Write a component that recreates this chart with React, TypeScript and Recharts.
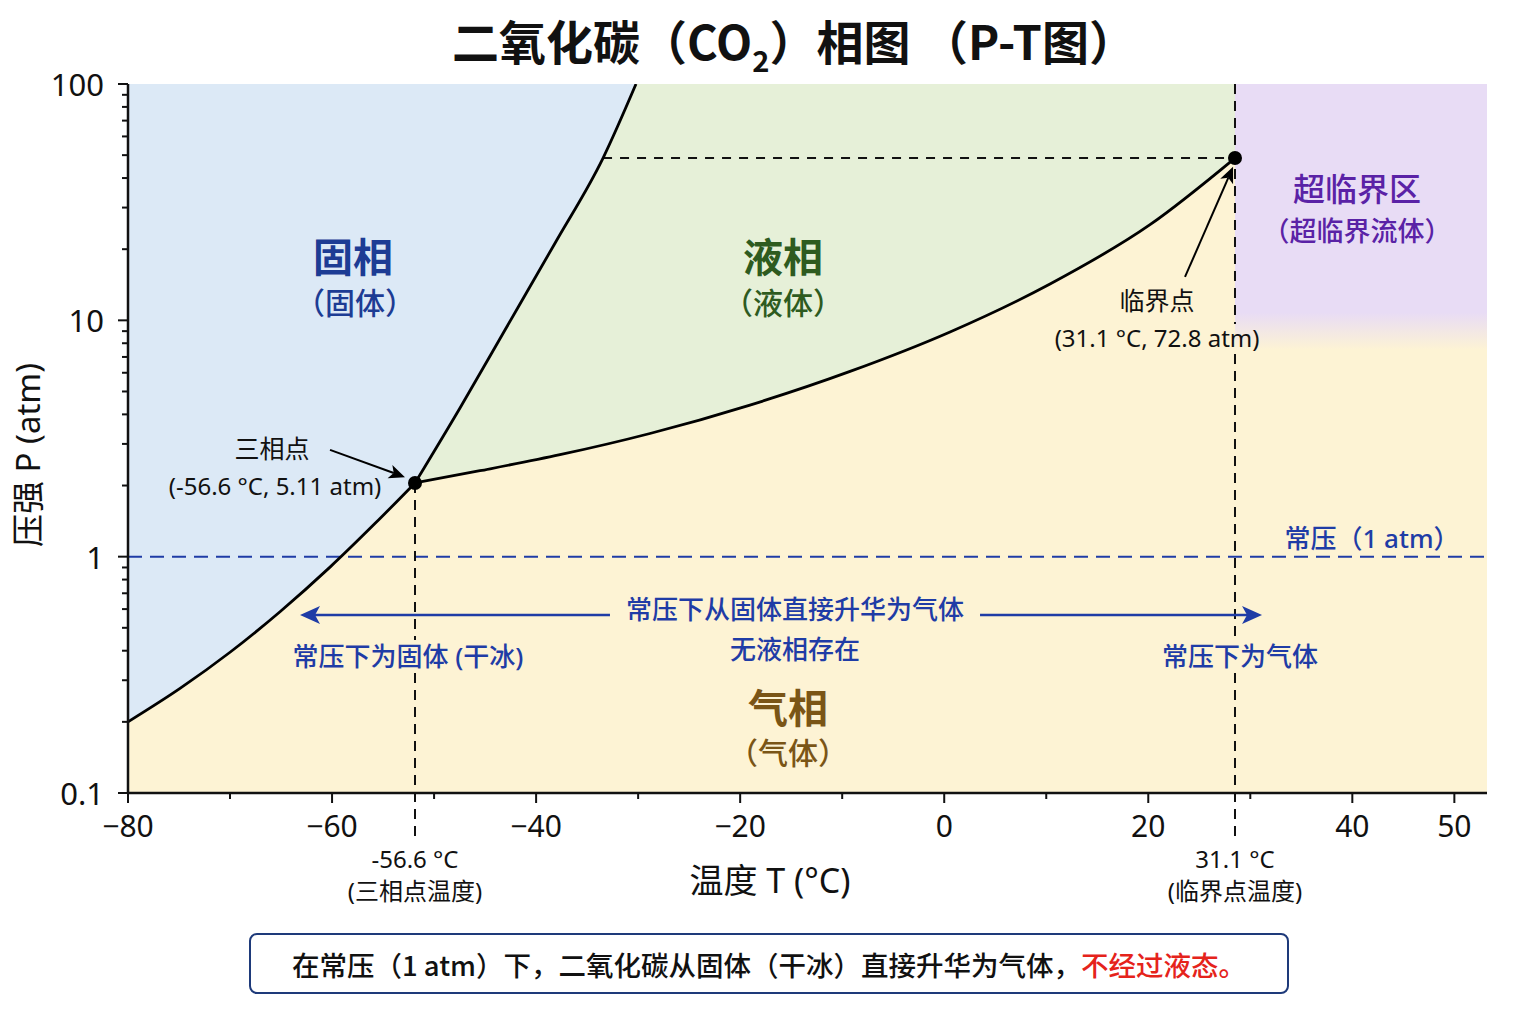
import React from 'react';
import {
  ComposedChart,
  Line,
  Area,
  Scatter,
  XAxis,
  YAxis,
  CartesianGrid,
  ReferenceLine,
  ReferenceArea,
  ReferenceDot,
} from 'recharts';

const FONT = '"Noto Sans", "Noto Sans CJK SC", sans-serif';
const CJK = '"Noto Sans CJK SC", "Noto Sans", sans-serif';

// t = 温度 (°C), p = 压强 (atm)
const sublimationCurve = [
  { t: -80, p: 0.2 },
  { t: -74.9, p: 0.277 },
  { t: -70.0, p: 0.394 },
  { t: -65.1, p: 0.585 },
  { t: -60.2, p: 0.903 },
  { t: -55.8, p: 1.38 },
  { t: -51.87, p: 2.05 },
];

const meltingCurve = [
  { t: -51.87, p: 2.05 },
  { t: -47.46, p: 4.26 },
  { t: -43.05, p: 9.1 },
  { t: -38.15, p: 21.2 },
  { t: -33.44, p: 48.6 },
  { t: -30.21, p: 100 },
];

const vaporizationCurve = [
  { t: -51.87, p: 2.05 },
  { t: -45.5, p: 2.31 },
  { t: -37.66, p: 2.7 },
  { t: -28.84, p: 3.32 },
  { t: -19.04, p: 4.38 },
  { t: -9.23, p: 6.08 },
  { t: 0.57, p: 8.93 },
  { t: 10.37, p: 14.25 },
  { t: 20.17, p: 25.4 },
  { t: 28.5, p: 48.6 },
];

const triplePoint = [{ t: -51.87, p: 2.05 }];
const criticalPoint = [{ t: 28.5, p: 48.6 }];

const xDomain = [-80, 53.2];
const xTicks = [-80, -70, -60, -50, -40, -30, -20, -10, 0, 10, 20, 30, 40, 50];
const xLabeled = [-80, -60, -40, -20, 0, 20, 40, 50];
const yTicks = [
  0.1, 0.2, 0.3, 0.4, 0.5, 0.6, 0.7, 0.8, 0.9,
  1, 2, 3, 4, 5, 6, 7, 8, 9,
  10, 20, 30, 40, 50, 60, 70, 80, 90, 100,
];
const yLabeled = [0.1, 1, 10, 100];

const INK = '#111';
const BLUE = '#1f3ca6';
const GAS = '#fdf3d4';

const XTick = ({ x, y, payload }: any) => {
  const v = payload.value;
  const major = xLabeled.includes(v);
  return (
    <g>
      <line x1={x} y1={y} x2={x} y2={y + (major ? 10 : 6)} stroke={INK} strokeWidth={2} />
      {major && (
        <text x={x} y={y + 32} textAnchor="middle" dominantBaseline="central" fontSize={30} fontFamily={FONT} fill={INK}>
          {v < 0 ? '−' + Math.abs(v) : String(v)}
        </text>
      )}
    </g>
  );
};

const YTick = ({ x, y, payload }: any) => {
  const v = payload.value;
  const major = yLabeled.includes(v);
  return (
    <g>
      <line x1={x - (major ? 10 : 6)} y1={y} x2={x} y2={y} stroke={INK} strokeWidth={2} />
      {major && (
        <text x={x - 24} y={y} textAnchor="end" dominantBaseline="central" fontSize={31} fontFamily={FONT} fill={INK}>
          {String(v)}
        </text>
      )}
    </g>
  );
};

// line with a filled head at the second end
const arrowShape = (color: string, width: number, len: number, half: number) => (props: any) => {
  const { x1, y1, x2, y2 } = props;
  const a = Math.atan2(y2 - y1, x2 - x1);
  const bx = x2 - len * Math.cos(a);
  const by = y2 - len * Math.sin(a);
  const nx = bx + len * 0.25 * Math.cos(a);
  const ny = by + len * 0.25 * Math.sin(a);
  const pts = [
    `${x2},${y2}`,
    `${bx + half * Math.sin(a)},${by - half * Math.cos(a)}`,
    `${nx},${ny}`,
    `${bx - half * Math.sin(a)},${by + half * Math.cos(a)}`,
  ].join(' ');
  return (
    <g>
      <line x1={x1} y1={y1} x2={nx} y2={ny} stroke={color} strokeWidth={width} />
      <polygon points={pts} fill={color} />
    </g>
  );
};

const note = (
  key: string, t: number, p: number, text: string, size: number, color: string, weight = 400,
) => (
  <ReferenceDot
    key={key}
    x={t}
    y={p}
    r={0}
    ifOverflow="visible"
    shape={(s: any) => (
      <text
        x={s.cx}
        y={s.cy}
        textAnchor="middle"
        dominantBaseline="central"
        fontSize={size}
        fontWeight={weight}
        fontFamily={FONT}
        fill={color}
      >
        {text}
      </text>
    )}
  />
);

// dashed guide broken where a label sits on it
const guide = (key: string, t: number, p1: number, p2: number) => (
  <ReferenceLine
    key={key}
    segment={[{ x: t, y: p1 }, { x: t, y: p2 }]}
    ifOverflow="visible"
    stroke={INK}
    strokeWidth={2}
    strokeDasharray="10 7"
  />
);

const dot = (s: any) => <circle cx={s.cx} cy={s.cy} r={7} fill="#000" />;

export default function App() {
  return (
    <div style={{ position: 'absolute', left: 0, top: 0, width: 1536, height: 1024, background: '#fff', fontFamily: CJK }}>
      <div
        style={{
          position: 'absolute', left: 294, top: 13, width: 1000, textAlign: 'center',
          fontSize: 47, fontWeight: 700, lineHeight: '54px', color: INK,
        }}
      >
        二氧化碳（CO<span style={{ fontSize: '0.62em', position: 'relative', top: '0.4em' }}>2</span>）相图 （P-T图）
      </div>

      <ComposedChart width={1536} height={1024} margin={{ top: 84, right: 49, bottom: 0, left: 0 }}>
        <defs>
          <linearGradient id="scGrad" x1="0" y1="0" x2="0" y2="1">
            <stop offset="0" stopColor="#e8dcf5" />
            <stop offset="0.86" stopColor="#e8dcf5" />
            <stop offset="1" stopColor={GAS} />
          </linearGradient>
        </defs>
        <CartesianGrid fill={GAS} stroke="none" />
        <XAxis
          dataKey="t"
          type="number"
          domain={xDomain}
          ticks={xTicks}
          interval={0}
          height={231}
          tickSize={0}
          tickMargin={0}
          tickLine={false}
          tick={(props: any) => <XTick {...props} />}
          axisLine={{ stroke: INK, strokeWidth: 2.5 }}
          allowDataOverflow
        />
        <XAxis xAxisId="top" orientation="top" type="number" domain={xDomain} height={0} tick={false} tickLine={false} axisLine={{ stroke: INK, strokeWidth: 2.5 }} />
        <YAxis
          dataKey="p"
          type="number"
          scale="log"
          domain={[0.1, 100]}
          ticks={yTicks}
          interval={0}
          width={128}
          tickSize={0}
          tickMargin={0}
          tickLine={false}
          tick={(props: any) => <YTick {...props} />}
          axisLine={{ stroke: INK, strokeWidth: 2.5 }}
          allowDataOverflow
        />
        <YAxis yAxisId="right" orientation="right" type="number" domain={[0, 1]} width={0} tick={false} tickLine={false} axisLine={{ stroke: INK, strokeWidth: 2.5 }} />

        <ReferenceArea x1={28.5} x2={53.2} y1={7.5} y2={100} fill="url(#scGrad)" fillOpacity={1} stroke="none" />

        <Area data={vaporizationCurve} dataKey="p" type="monotone" baseValue={100} fill="#e6f0d8" fillOpacity={1} stroke="none" isAnimationActive={false} />
        <Area data={sublimationCurve} dataKey="p" type="monotone" baseValue={100} fill="#dce9f6" fillOpacity={1} stroke="none" isAnimationActive={false} />
        <Area data={meltingCurve} dataKey="p" type="monotone" baseValue={100} fill="#dce9f6" fillOpacity={1} stroke="none" isAnimationActive={false} />

        <ReferenceLine y={1} stroke={BLUE} strokeWidth={2} strokeDasharray="14 8" />
        <ReferenceLine segment={[{ x: -33.44, y: 48.6 }, { x: 28.5, y: 48.6 }]} stroke={INK} strokeWidth={2} strokeDasharray="9 8" />
        {guide('v1', -51.87, 2.05, 0.444)}
        {guide('v2', -51.87, 0.322, 0.063)}
        {guide('v3', 28.5, 100, 9.65)}
        {guide('v4', 28.5, 7.2, 0.444)}
        {guide('v5', 28.5, 0.322, 0.063)}

        <Line data={sublimationCurve} dataKey="p" type="monotone" stroke="#000" strokeWidth={2.8} dot={false} isAnimationActive={false} />
        <Line data={meltingCurve} dataKey="p" type="monotone" stroke="#000" strokeWidth={2.8} dot={false} isAnimationActive={false} />
        <Line data={vaporizationCurve} dataKey="p" type="monotone" stroke="#000" strokeWidth={2.8} dot={false} isAnimationActive={false} />

        <ReferenceLine segment={[{ x: -32.76, y: 0.567 }, { x: -63.14, y: 0.567 }]} shape={arrowShape(BLUE, 2.5, 20, 9)} />
        <ReferenceLine segment={[{ x: 3.51, y: 0.567 }, { x: 31.15, y: 0.567 }]} shape={arrowShape(BLUE, 2.5, 20, 9)} />
        <ReferenceLine segment={[{ x: -60.2, y: 2.83 }, { x: -52.85, y: 2.17 }]} shape={arrowShape('#000', 2, 16, 7)} />
        <ReferenceLine segment={[{ x: 23.6, y: 15.26 }, { x: 28.31, y: 44.6 }]} shape={arrowShape('#000', 2, 16, 7)} />

        <Scatter data={triplePoint} shape={dot} isAnimationActive={false} />
        <Scatter data={criticalPoint} shape={dot} isAnimationActive={false} />

        {note('s1', -57.95, 18.7, '固相', 40, '#1d3c94', 700)}
        {note('s2', -57.75, 11.84, '（固体）', 30, '#1d3c94', 500)}
        {note('l1', -15.8, 18.7, '液相', 40, '#2e5b1f', 700)}
        {note('l2', -15.8, 11.84, '（液体）', 30, '#2e5b1f', 500)}
        {note('g1', -15.31, 0.231, '气相', 40, '#7a5516', 700)}
        {note('g2', -15.31, 0.149, '（气体）', 30, '#7a5516', 500)}
        {note('c1', 40.46, 36.3, '超临界区', 32, '#5a22a6', 500)}
        {note('c2', 40.46, 24.1, '（超临界流体）', 27, '#5a22a6', 500)}
        {note('t1', -65.89, 2.88, '三相点', 25, INK)}
        {note('t2', -65.59, 2.01, '(-56.6 °C, 5.11 atm)', 24, INK)}
        {note('k1', 20.86, 12.19, '临界点', 25, INK)}
        {note('k2', 20.86, 8.42, '(31.1 °C, 72.8 atm)', 24, INK)}
        {note('a1', 41.93, 1.2, '常压（1 atm）', 26, BLUE, 500)}
        {note('b1', -14.63, 0.601, '常压下从固体直接升华为气体', 26, BLUE, 500)}
        {note('b2', -14.63, 0.407, '无液相存在', 26, BLUE, 500)}
        {note('b3', -52.56, 0.38, '常压下为固体 (干冰)', 26, BLUE, 500)}
        {note('b4', 28.99, 0.38, '常压下为气体', 26, BLUE, 500)}
        {note('x1', -51.87, 0.0526, '-56.6 °C', 24, INK)}
        {note('x2', -51.87, 0.0385, '(三相点温度)', 24, INK)}
        {note('x3', 28.5, 0.0526, '31.1 °C', 24, INK)}
        {note('x4', 28.5, 0.0385, '(临界点温度)', 24, INK)}
      </ComposedChart>

      <div
        style={{
          position: 'absolute', left: -122, top: 435, width: 300, height: 40, lineHeight: '40px',
          textAlign: 'center', fontSize: 33, color: INK, transform: 'rotate(-90deg)', fontFamily: FONT,
        }}
      >
        压强 P (atm)
      </div>
      <div
        style={{
          position: 'absolute', left: 570, top: 860, width: 400, height: 40, lineHeight: '40px',
          textAlign: 'center', fontSize: 34, color: INK, fontFamily: FONT,
        }}
      >
        温度 T (°C)
      </div>
      <div
        style={{
          position: 'absolute', left: 249, top: 933, width: 1040, height: 61, boxSizing: 'border-box',
          border: '2px solid #1e3a7a', borderRadius: 8, display: 'flex', alignItems: 'center',
          justifyContent: 'center', fontSize: 27.5, fontWeight: 500, color: INK,
        }}
      >
        在常压（1 atm）下，二氧化碳从固体（干冰）直接升华为气体，<span style={{ color: '#e5231b' }}>不经过液态。</span>
      </div>
    </div>
  );
}
